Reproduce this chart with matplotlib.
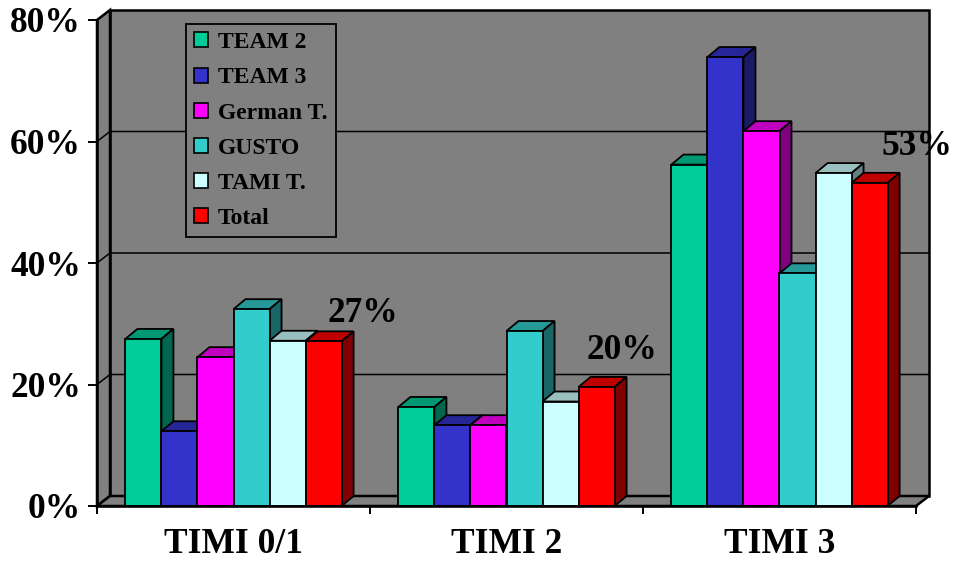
import matplotlib
matplotlib.use('Agg')
import matplotlib.pyplot as plt
from matplotlib.patches import Polygon, Patch
from matplotlib.colors import to_rgb
import numpy as np

# ---- data ----
categories = ['TIMI 0/1', 'TIMI 2', 'TIMI 3']
series_names = ['TEAM 2', 'TEAM 3', 'German T.', 'GUSTO', 'TAMI T.', 'Total']
team2 = [27.5, 16.3, 56.2]
team3 = [12.3, 13.3, 73.9]
german = [24.5, 13.3, 61.7]
gusto = [32.4, 28.8, 38.3]
tami = [27.2, 17.2, 54.8]
total = [27.1, 19.6, 53.2]
total_labels = ['27%', '20%', '53%']
y_ticks = [0, 20, 40, 60, 80]
y_tick_labels = ['0%', '20%', '40%', '60%', '80%']

series = [team2, team3, german, gusto, tami, total]
colors = ['#00CC99', '#3333CC', '#FF00FF', '#33CCCC', '#CCFFFF', '#FF0000']
label_offsets = [(28, 8), (18, 14), (34, 14)]  # points, style only

plt.rcParams['font.family'] = ['Liberation Serif', 'DejaVu Serif']
plt.rcParams['font.weight'] = 'bold'

W, H = 954, 561
fig = plt.figure(figsize=(W / 100, H / 100), dpi=100)
ax_l, ax_r, ax_t, ax_b = 97, 916, 20, 506
ax = fig.add_axes([ax_l / W, (H - ax_b) / H, (ax_r - ax_l) / W, (ax_b - ax_t) / H])
ax.set_xlim(-0.5, 2.5)
ax.set_ylim(0, 80)
ax.set_facecolor('none')

px_x = 3.0 / (ax_r - ax_l)
px_y = 80.0 / (ax_b - ax_t)
wdx, wdy = 13 * px_x, 10 * px_y   # wall depth
bdx, bdy = 12 * px_x, 10 * px_y   # bar depth

gray = '#808080'
x0, x1 = -0.5, 2.5
y0, y1 = 0, 80
wall_kw = dict(facecolor=gray, edgecolor='black', lw=1.8, clip_on=False, zorder=0.5)
# back wall
ax.add_patch(Polygon([(x0 + wdx, y0 + wdy), (x1 + wdx, y0 + wdy), (x1 + wdx, y1 + wdy),
                      (x0 + wdx, y1 + wdy)], closed=True, **wall_kw))
# left wall
ax.add_patch(Polygon([(x0, y0), (x0, y1), (x0 + wdx, y1 + wdy), (x0 + wdx, y0 + wdy)],
                     closed=True, **wall_kw))
# floor
ax.add_patch(Polygon([(x0, y0), (x1, y0), (x1 + wdx, y0 + wdy), (x0 + wdx, y0 + wdy)],
                     closed=True, **wall_kw))
# gridlines
for yv in y_ticks[1:-1]:
    ax.plot([x0, x0 + wdx, x1 + wdx], [yv, yv + wdy, yv + wdy], color='black', lw=1.1,
            clip_on=False, zorder=0.6)

# bars
w = 0.132
for i, (vals, c) in enumerate(zip(series, colors)):
    rgb = np.array(to_rgb(c))
    top_c = rgb * 0.75
    side_c = rgb * 0.5
    xs = np.arange(len(categories)) + (i - 2.5) * w
    ax.bar(xs, vals, width=w, color=c, edgecolor='black', lw=1.3, zorder=4 + 2 * i)
    for xc, v in zip(xs, vals):
        l, r = xc - w / 2, xc + w / 2
        ax.add_patch(Polygon([(l, v), (r, v), (r + bdx, v + bdy), (l + bdx, v + bdy)],
                             closed=True, facecolor=top_c, edgecolor='black', lw=1.3,
                             zorder=3 + 2 * i, clip_on=False))
        ax.add_patch(Polygon([(r, 0), (r, v), (r + bdx, v + bdy), (r + bdx, bdy)],
                             closed=True, facecolor=side_c, edgecolor='black', lw=1.3,
                             zorder=3 + 2 * i, clip_on=False))

# total labels
xs_tot = np.arange(len(categories)) + 2.5 * w
for xc, v, lab, off in zip(xs_tot, total, total_labels, label_offsets):
    ax.annotate(lab, xy=(xc, v), xytext=off, textcoords='offset points',
                ha='center', va='bottom', fontsize=25.5, fontweight='bold', zorder=20,
                annotation_clip=False)

# axes styling
for s in ['top', 'right']:
    ax.spines[s].set_visible(False)
for s in ['left', 'bottom']:
    ax.spines[s].set_linewidth(1.8)
    ax.spines[s].set_zorder(30)
ax.set_yticks(y_ticks, y_tick_labels)
ax.tick_params(axis='y', direction='out', length=6.5, width=1.4, pad=5, labelsize=25.5)
ax.set_xticks([-0.5, 0.5, 1.5, 2.5])
ax.set_xticklabels([])
ax.set_xticks([0, 1, 2], minor=True)
ax.set_xticklabels(categories, minor=True)
ax.tick_params(axis='x', which='major', direction='out', length=6, width=1.4)
ax.tick_params(axis='x', which='minor', length=0, pad=16, labelsize=25.5)

handles = [Patch(facecolor=c, edgecolor='black', lw=1.2) for c in colors]
leg = ax.legend(handles, series_names, loc='upper left',
                bbox_to_anchor=(186 / W, 1 - 24 / H), bbox_transform=fig.transFigure,
                borderaxespad=0, fontsize=17, frameon=True, fancybox=False,
                facecolor=gray, edgecolor='black', framealpha=1,
                handlelength=0.6, handleheight=0.6, handletextpad=0.4,
                labelspacing=0.6, borderpad=0.35)
leg.get_frame().set_linewidth(1.3)
leg.set_zorder(10)

fig.savefig('out.png', dpi=100)
